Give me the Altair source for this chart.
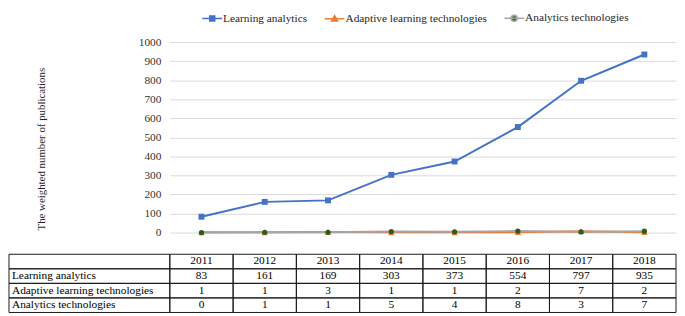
import altair as alt
import pandas as pd

years = ["2011", "2012", "2013", "2014", "2015", "2016", "2017", "2018"]
series_names = ["Learning analytics", "Adaptive learning technologies", "Analytics technologies"]
learning_analytics = [83, 161, 169, 303, 373, 554, 797, 935]
adaptive_learning = [1, 1, 3, 1, 1, 2, 7, 2]
analytics_tech = [0, 1, 1, 5, 4, 8, 3, 7]
y_ticks = [0, 100, 200, 300, 400, 500, 600, 700, 800, 900, 1000]

line_colors = ["#4472C4", "#ED7D31", "#A5A5A5"]
marker_colors = ["#4472C4", "#ED7D31", "#2E5B1E"]
marker_shapes = ["square", "triangle-up", "circle"]
marker_sizes = [36, 44, 28]
legend_paths = [
    "M-1,0H1M-0.25,-0.25H0.25V0.25H-0.25Z",
    "M-1,0H1M0,-0.3L0.3,0.22H-0.3Z",
    "M-1,0H1M0.3,0A0.3,0.3,0,1,1,-0.3,0A0.3,0.3,0,1,1,0.3,0Z",
]

FONT = "Liberation Serif"

values_by_series = [learning_analytics, adaptive_learning, analytics_tech]
long = pd.DataFrame(
    [{"year": y, "series": s, "value": v}
     for s, vals in zip(series_names, values_by_series)
     for y, v in zip(years, vals)]
)

row_order = ["header"] + series_names
cells = pd.DataFrame(
    [{"year": y, "row": "header", "text": y} for y in years]
    + [{"year": y, "row": s, "text": str(v)}
       for s, vals in zip(series_names, values_by_series)
       for y, v in zip(years, vals)]
)
labels = pd.DataFrame({"row": row_order, "label": [""] + series_names})

x_enc = alt.X("year:O", scale=alt.Scale(type="band", domain=years, paddingInner=0, paddingOuter=0), axis=None)
y_enc = alt.Y(
    "value:Q",
    scale=alt.Scale(domain=[0, 1000], nice=False),
    axis=alt.Axis(
        values=y_ticks, format="d", grid=True, gridColor="#D9D9D9", gridWidth=1,
        domain=False, ticks=False, tickSize=0, labelPadding=9,
        labelFont=FONT, labelFontSize=11.5, labelColor="#333333",
        title="The weighted number of publications", titleFont=FONT,
        titleFontSize=11, titleFontWeight="normal", titleColor="#262626",
        titleX=-130, titleY=108, titleAlign="center", titleBaseline="middle",
    ),
)

leg = alt.Legend(title=None, orient="none", legendX=32, legendY=-35.5, direction="horizontal",
                 labelFont=FONT, labelFontSize=11.5, labelColor="#262626",
                 symbolSize=400, symbolStrokeWidth=1.6, columnPadding=13, labelOffset=0)

stroke_scale = alt.Scale(domain=series_names, range=line_colors)

lines = alt.Chart(long).mark_line(strokeWidth=2).encode(
    x=x_enc, y=y_enc,
    stroke=alt.Stroke("series:N", scale=stroke_scale, legend=leg),
)

point_layers = [
    alt.Chart(long).transform_filter(alt.datum.series == s).mark_point(
        shape=shp, filled=True, size=sz, color=col, opacity=1
    ).encode(x=x_enc, y=y_enc)
    for s, shp, col, sz in zip(series_names, marker_shapes, marker_colors, marker_sizes)
]

legend_layer = alt.Chart(long).transform_filter("false").mark_point(filled=True, opacity=1).encode(
    shape=alt.Shape("series:N", scale=alt.Scale(domain=series_names, range=legend_paths), legend=leg),
    fill=alt.Fill("series:N", scale=alt.Scale(domain=series_names, range=marker_colors), legend=leg),
    stroke=alt.Stroke("series:N", scale=stroke_scale, legend=leg),
)

main = alt.layer(lines, *point_layers, legend_layer)

table_y = alt.Y("row:N", scale=alt.Scale(domain=row_order, range=[215, 274], paddingInner=0, paddingOuter=0), axis=None)

cell_rects = alt.Chart(cells).mark_rect(fill="transparent", stroke="#1a1a1a", strokeWidth=1).encode(x=x_enc, y=table_y)
label_rects = alt.Chart(labels).mark_rect(fill="transparent", stroke="#1a1a1a", strokeWidth=1).encode(
    x=alt.value(-163), x2=alt.value(0), y=table_y)
cell_text = alt.Chart(cells).mark_text(font=FONT, fontSize=11.5, color="black").encode(
    x=x_enc, y=table_y, text="text:N")
label_text = alt.Chart(labels).mark_text(font=FONT, fontSize=11.5, color="black", align="left").encode(
    x=alt.value(-160), y=table_y, text="label:N")

table = alt.layer(cell_rects, label_rects, cell_text, label_text)

chart = alt.layer(main, table).resolve_scale(y="independent").properties(
    width=513, height=193, padding={"top": -3.5, "left": 0, "right": 0, "bottom": 0}
).configure_view(stroke=None)

chart.save("out.html", embed_options={"renderer": "svg", "actions": False})
